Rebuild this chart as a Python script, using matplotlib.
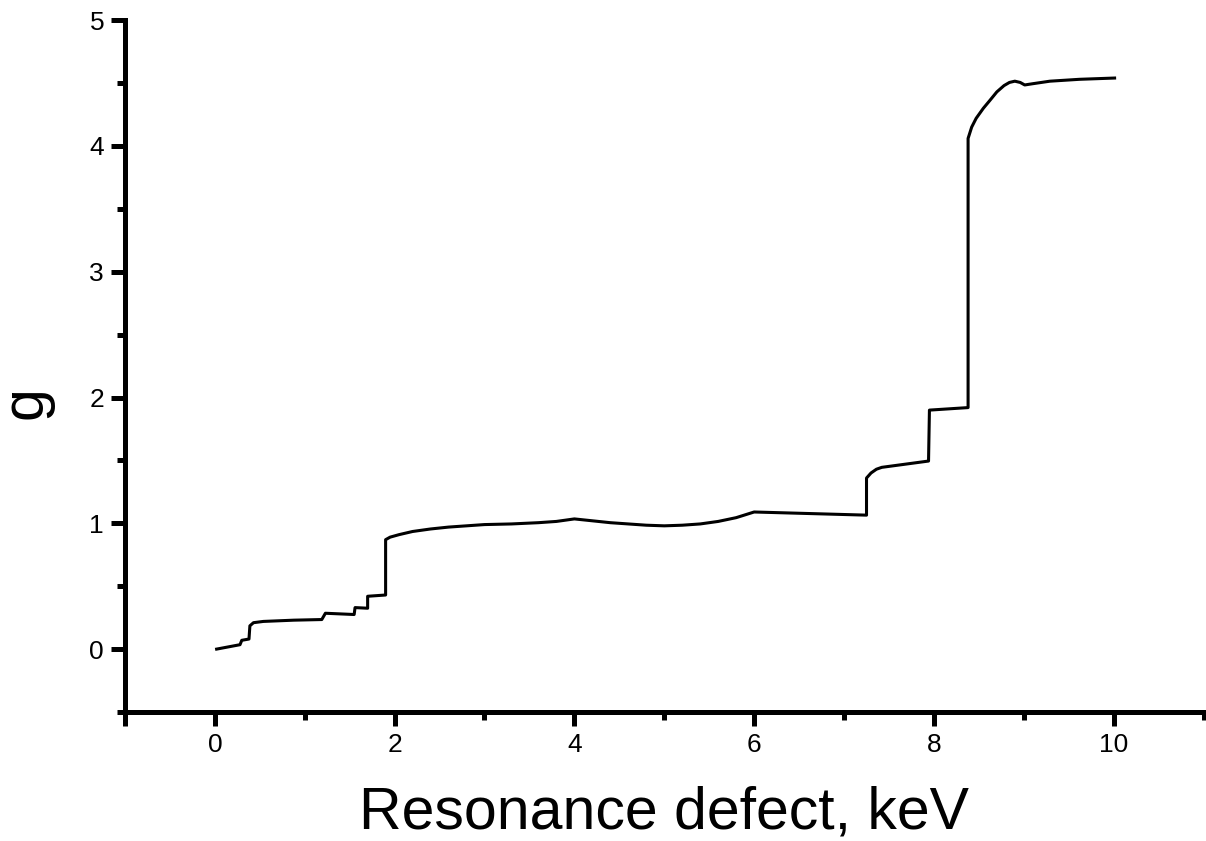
import matplotlib
matplotlib.use("Agg")

import matplotlib.pyplot as plt
from matplotlib.ticker import MultipleLocator

# data (repeated x = vertical step)
x_kev = [0.02, 0.28, 0.30, 0.38, 0.39, 0.43, 0.54, 0.88, 1.19, 1.23, 1.55, 1.56,
         1.70, 1.70, 1.90, 1.90, 1.95, 2.05, 2.2, 2.4, 2.6, 2.8, 3.0, 3.3, 3.6,
         3.8, 4.0, 4.2, 4.4, 4.6, 4.8, 5.0, 5.2, 5.4, 5.6, 5.8, 6.0, 6.5, 7.0,
         7.25, 7.25, 7.30, 7.36, 7.42, 7.94, 7.95, 8.38, 8.38, 8.42, 8.47, 8.55,
         8.62, 8.70, 8.78, 8.84, 8.90, 8.96, 9.01, 9.10, 9.29, 9.62, 10.01]
g_val = [0.0, 0.035, 0.07, 0.08, 0.185, 0.21, 0.22, 0.23, 0.235, 0.285, 0.275, 0.33,
         0.325, 0.42, 0.43, 0.87, 0.89, 0.91, 0.935, 0.955, 0.97, 0.98, 0.99, 0.995, 1.005,
         1.015, 1.035, 1.02, 1.005, 0.995, 0.985, 0.98, 0.985, 0.995, 1.015, 1.045, 1.09,
         1.08, 1.07, 1.065, 1.36, 1.40, 1.43, 1.445, 1.495, 1.90, 1.92, 4.06, 4.15, 4.22,
         4.30, 4.36, 4.43, 4.48, 4.505, 4.515, 4.505, 4.485, 4.495, 4.515, 4.53, 4.54]

plt.rcParams["font.family"] = ["Liberation Sans", "DejaVu Sans"]

fig = plt.figure(figsize=(12.06, 8.41), dpi=100)
ax = fig.add_axes([0.1036, 0.1534, 0.8944, 0.8226])

ax.plot(x_kev, g_val, color="black", lw=2.2, solid_joinstyle="round")

ax.set_xlim(-1, 11)
ax.set_ylim(-0.5, 5)
ax.xaxis.set_major_locator(MultipleLocator(2))
ax.xaxis.set_minor_locator(MultipleLocator(1))
ax.yaxis.set_major_locator(MultipleLocator(1))
ax.yaxis.set_minor_locator(MultipleLocator(0.5))

for side in ("top", "right"):
    ax.spines[side].set_visible(False)
for side in ("left", "bottom"):
    ax.spines[side].set_linewidth(3.6)

ax.tick_params(which="major", direction="out", length=10, width=3.6, labelsize=19)
ax.tick_params(which="minor", direction="out", length=5.5, width=3.6)
ax.tick_params(axis="x", which="major", pad=5)
ax.tick_params(axis="y", which="major", pad=5)

# hide the -1 x tick label (axis corner)
ax.set_xticks([-1, 0, 2, 4, 6, 8, 10])
ax.set_xticklabels(["", "0", "2", "4", "6", "8", "10"])
ax.set_yticks([0, 1, 2, 3, 4, 5])

ax.set_xlabel("Resonance defect, keV", fontsize=42.5)
ax.xaxis.set_label_coords(0.5, -0.106)
ax.set_ylabel("g", fontsize=42.5)
ax.yaxis.set_label_coords(-0.066, 0.447)

fig.savefig("out.png", dpi=100)
